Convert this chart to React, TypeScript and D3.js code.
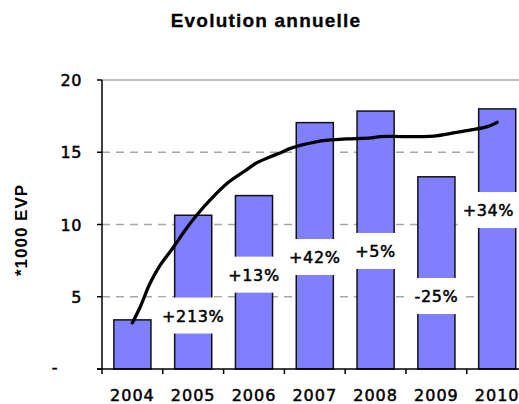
import React, { useEffect, useRef } from "react";
import * as d3 from "d3";

const years = ["2004", "2005", "2006", "2007", "2008", "2009", "2010"];
const volumes = [3.4, 10.64, 12.0, 17.05, 17.85, 13.3, 18.0];
const yTicks = [0, 5, 10, 15, 20];
const yTickLabels = ["-", "5", "10", "15", "20"];

const growthLabels = ["+213%", "+13%", "+42%", "+5%", "-25%", "+34%"];
const growthYears = ["2005", "2006", "2007", "2008", "2009", "2010"];
const growthLevel = [3.7, 6.53, 7.75, 8.17, 5.05, 11.0];

const trendYear = [
  2004.0, 2004.13, 2004.29, 2004.46, 2004.68, 2004.87, 2005.06, 2005.28, 2005.56, 2005.83,
  2006.05, 2006.27, 2006.44, 2006.6, 2006.98, 2007.26, 2007.53, 2007.92, 2008.08, 2008.74,
  2008.96, 2009.24, 2009.57, 2009.84, 2010.0,
];
const trendValue = [
  3.2, 4.31, 5.93, 7.2, 8.46, 9.62, 10.66, 11.7, 12.85, 13.65,
  14.28, 14.69, 14.97, 15.27, 15.69, 15.85, 15.92, 15.99, 16.08, 16.08,
  16.12, 16.31, 16.54, 16.77, 17.07,
];

const W = 519;
const H = 404;

export default function App() {
  const ref = useRef<SVGSVGElement>(null);

  useEffect(() => {
    const svg = d3.select(ref.current);
    svg.selectAll("*").remove();

    const left = 102;
    const step = 60.8;
    const x = d3
      .scaleBand<string>()
      .domain(years)
      .range([left, left + step * years.length])
      .paddingInner(0.39)
      .paddingOuter(0.195);
    const y = d3.scaleLinear().domain([0, 20]).range([369, 80]);
    const xYear = d3
      .scaleLinear()
      .domain([2004, 2010])
      .range([x("2004")! + x.bandwidth() / 2, x("2010")! + x.bandwidth() / 2]);
    const center = (yr: string) => x(yr)! + x.bandwidth() / 2;

    const tickFont = "'DejaVu Sans', Verdana, sans-serif";

    // title
    svg
      .append("text")
      .attr("x", 266)
      .attr("y", 27)
      .attr("text-anchor", "middle")
      .attr("font-family", "'Liberation Sans', Arial, sans-serif")
      .attr("font-weight", "bold")
      .attr("font-size", 19)
      .attr("letter-spacing", 1.2)
      .attr("stroke", "#000")
      .attr("stroke-width", 0.3)
      .text("Evolution annuelle");

    // y axis title
    svg
      .append("text")
      .attr("transform", "translate(27,230) rotate(-90)")
      .attr("text-anchor", "middle")
      .attr("font-family", "'Liberation Sans', Arial, sans-serif")
      .attr("font-weight", "bold")
      .attr("font-size", 17)
      .attr("letter-spacing", 1)
      .text("*1000 EVP");

    // gridlines
    const grid = svg.append("g");
    yTicks
      .filter((t) => t > 0)
      .forEach((t) => {
        grid
          .append("line")
          .attr("x1", left)
          .attr("x2", W)
          .attr("y1", y(t))
          .attr("y2", y(t))
          .attr("stroke", "#a6a6a6")
          .attr("stroke-width", 1.5)
          .attr("stroke-dasharray", t === 20 ? null : "8,6");
      });

    // bars
    svg
      .append("g")
      .selectAll("rect")
      .data(years)
      .join("rect")
      .attr("x", (d) => x(d)!)
      .attr("width", x.bandwidth())
      .attr("y", (d, i) => y(volumes[i]))
      .attr("height", (d, i) => y(0) - y(volumes[i]))
      .attr("fill", "#8080ff")
      .attr("stroke", "#111")
      .attr("stroke-width", 1.5);

    // axes lines
    svg
      .append("line")
      .attr("x1", left)
      .attr("x2", left)
      .attr("y1", y(20))
      .attr("y2", y(0))
      .attr("stroke", "#000")
      .attr("stroke-width", 1.5);
    svg
      .append("line")
      .attr("x1", left - 5)
      .attr("x2", W)
      .attr("y1", y(0))
      .attr("y2", y(0))
      .attr("stroke", "#000")
      .attr("stroke-width", 1.5);

    // y ticks
    yTicks.forEach((t, i) => {
      svg
        .append("line")
        .attr("x1", left - 5)
        .attr("x2", left)
        .attr("y1", y(t))
        .attr("y2", y(t))
        .attr("stroke", "#000")
        .attr("stroke-width", 1.5);
      svg
        .append("text")
        .attr("x", t === 0 ? 55 : 82)
        .attr("y", y(t) + (t === 0 ? 4 : 6))
        .attr("text-anchor", t === 0 ? "middle" : "end")
        .attr("font-family", tickFont)
        .attr("font-size", 16)
        .attr("letter-spacing", 0.6)
        .attr("stroke", "#000")
        .attr("stroke-width", 0.5)
        .text(yTickLabels[i]);
    });

    // x ticks at band boundaries
    const stepPx = x.step();
    years.forEach((yr) => {
      const bx = x(yr)! - (stepPx * x.paddingInner()) / 2;
      svg
        .append("line")
        .attr("x1", bx)
        .attr("x2", bx)
        .attr("y1", y(0))
        .attr("y2", y(0) + 5)
        .attr("stroke", "#000")
        .attr("stroke-width", 1.5);
      svg
        .append("text")
        .attr("x", center(yr))
        .attr("y", 401)
        .attr("text-anchor", "middle")
        .attr("font-family", tickFont)
        .attr("font-size", 16)
        .attr("letter-spacing", 1)
        .attr("stroke", "#000")
        .attr("stroke-width", 0.5)
        .text(yr);
    });

    // trend line
    const line = d3
      .line<number>()
      .x((d, i) => xYear(trendYear[i]))
      .y((d) => y(d))
      .curve(d3.curveCatmullRom);
    svg
      .append("path")
      .attr("d", line(trendValue))
      .attr("fill", "none")
      .attr("stroke", "#000")
      .attr("stroke-width", 3.3)
      .attr("stroke-linecap", "round")
      .attr("stroke-linejoin", "round");

    // growth labels with white boxes
    growthLabels.forEach((lab, i) => {
      const g = svg.append("g");
      const rect = g.append("rect").attr("fill", "#fff");
      const cy = y(growthLevel[i]);
      const txt = g
        .append("text")
        .attr("y", cy + 6)
        .attr("text-anchor", "middle")
        .attr("font-family", tickFont)
        .attr("font-size", 16)
        .attr("letter-spacing", 0.6)
        .attr("stroke", "#000")
        .attr("stroke-width", 0.5)
        .text(lab);
      const bb = (txt.node() as SVGTextElement).getBBox();
      const bw = bb.width + 10;
      let cx = center(growthYears[i]);
      if (cx + bw / 2 > W) cx = W - bw / 2;
      txt.attr("x", cx);
      rect
        .attr("x", cx - bw / 2)
        .attr("width", bw)
        .attr("y", cy - 18)
        .attr("height", 36);
    });
  }, []);

  return (
    <svg
      ref={ref}
      width={W}
      height={H}
      style={{ position: "absolute", left: 0, top: 0, display: "block", background: "#fff" }}
    />
  );
}
